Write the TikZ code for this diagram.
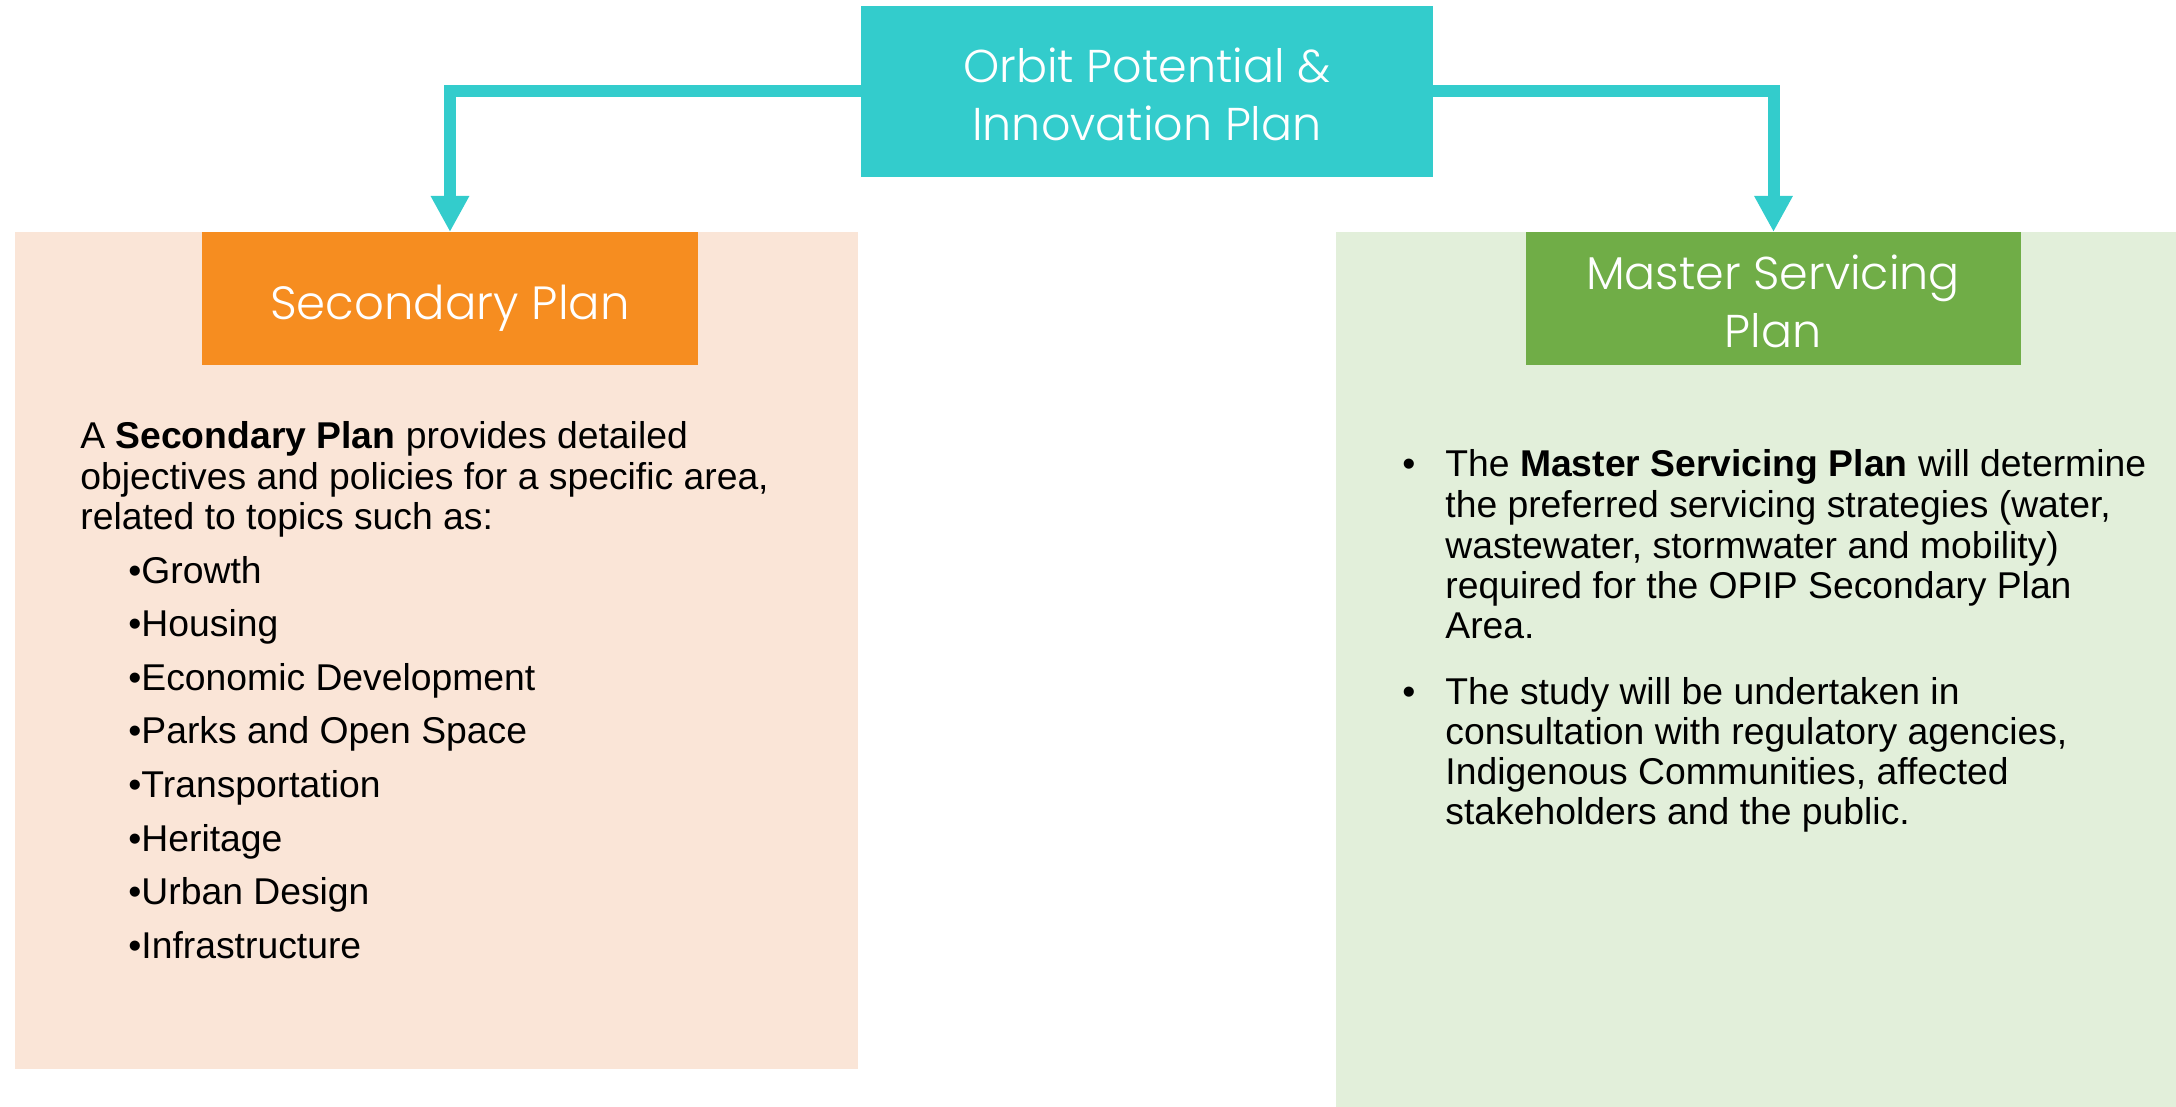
\documentclass[tikz,border=0pt]{standalone}
\usepackage{fontspec}
\setmainfont{Liberation Sans}
\newfontfamily\ttlfont{Poppins Light}
\usetikzlibrary{arrows.meta,fit}
\definecolor{teal1}{RGB}{51,204,204}
\definecolor{orange1}{RGB}{246,141,32}
\definecolor{peach}{RGB}{250,229,215}
\definecolor{green1}{RGB}{112,173,71}
\definecolor{lgreen}{RGB}{226,239,218}
\begin{document}
\begin{tikzpicture}[x=0.5pt,y=-0.5pt,
  box/.style={inner sep=0pt, outer sep=0pt},
  ttl/.style={text=white, font=\ttlfont\fontsize{23}{28}\selectfont, inner sep=0pt, anchor=base},
  body/.style={font=\fontsize{18.65}{20}\selectfont, inner sep=0pt, anchor=base west, text=black},
  conn/.style={draw=teal1, line width=6pt, -{Triangle[width=18pt,length=18pt]}}]
\useasboundingbox (0,0) rectangle (2176,1107);
% panels
\node[box, fit={(15,232)(858,1069)}, fill=peach] (lp) {};
\node[box, fit={(1336,232)(2176,1107)}, fill=lgreen] (rp) {};
% header boxes
\node[box, fit={(861,6)(1433,177)}, fill=teal1] (opip) {};
\node[box, fit={(202,232)(698,365)}, fill=orange1] (sp) {};
\node[box, fit={(1526,232)(2021,365)}, fill=green1] (msp) {};
% titles
\node[ttl] (t1) at (1147,83) {Orbit Potential \&};
\node[ttl] (t2) at (1147,141) {Innovation Plan};
\node[ttl, font=\ttlfont\fontsize{23.3}{28}\selectfont] (t3) at (450,320) {Secondary Plan};
\node[ttl] (t4) at (1773,290) {Master Servicing};
\node[ttl] (t5) at (1773,348) {Plan};
% connectors
\draw[conn] (opip.west) -| (sp.north);
\draw[conn] (opip.east) -| (msp.north);
% left text
\node[body] (a1) at (80,449) {A \textbf{Secondary Plan} provides detailed};
\node[body] (a2) at (80,489) {objectives and policies for a specific area,};
\node[body] (a3) at (80,529) {related to topics such as:};
\foreach \t [count=\i] in {Growth,Housing,Economic Development,Parks and Open Space,Transportation,Heritage,Urban Design,Infrastructure}
  \node[body] (li\i) at (128,{583+53.6*(\i-1)}) {•\t};
% right text
\node[body] (b0) at (1402,477) {•};
\node[body] (b1) at (1445,477) {The \textbf{Master Servicing Plan} will determine};
\node[body] (b2) at (1445,517) {the preferred servicing strategies (water,};
\node[body] (b3) at (1445,558) {wastewater, stormwater and mobility)};
\node[body] (b4) at (1445,598) {required for the OPIP Secondary Plan};
\node[body] (b5) at (1445,638) {Area.};
\node[body] (c0) at (1402,704) {•};
\node[body] (c1) at (1445,704) {The study will be undertaken in};
\node[body] (c2) at (1445,744) {consultation with regulatory agencies,};
\node[body] (c3) at (1445,784) {Indigenous Communities, affected};
\node[body] (c4) at (1445,824) {stakeholders and the public.};
\end{tikzpicture}
\end{document}
